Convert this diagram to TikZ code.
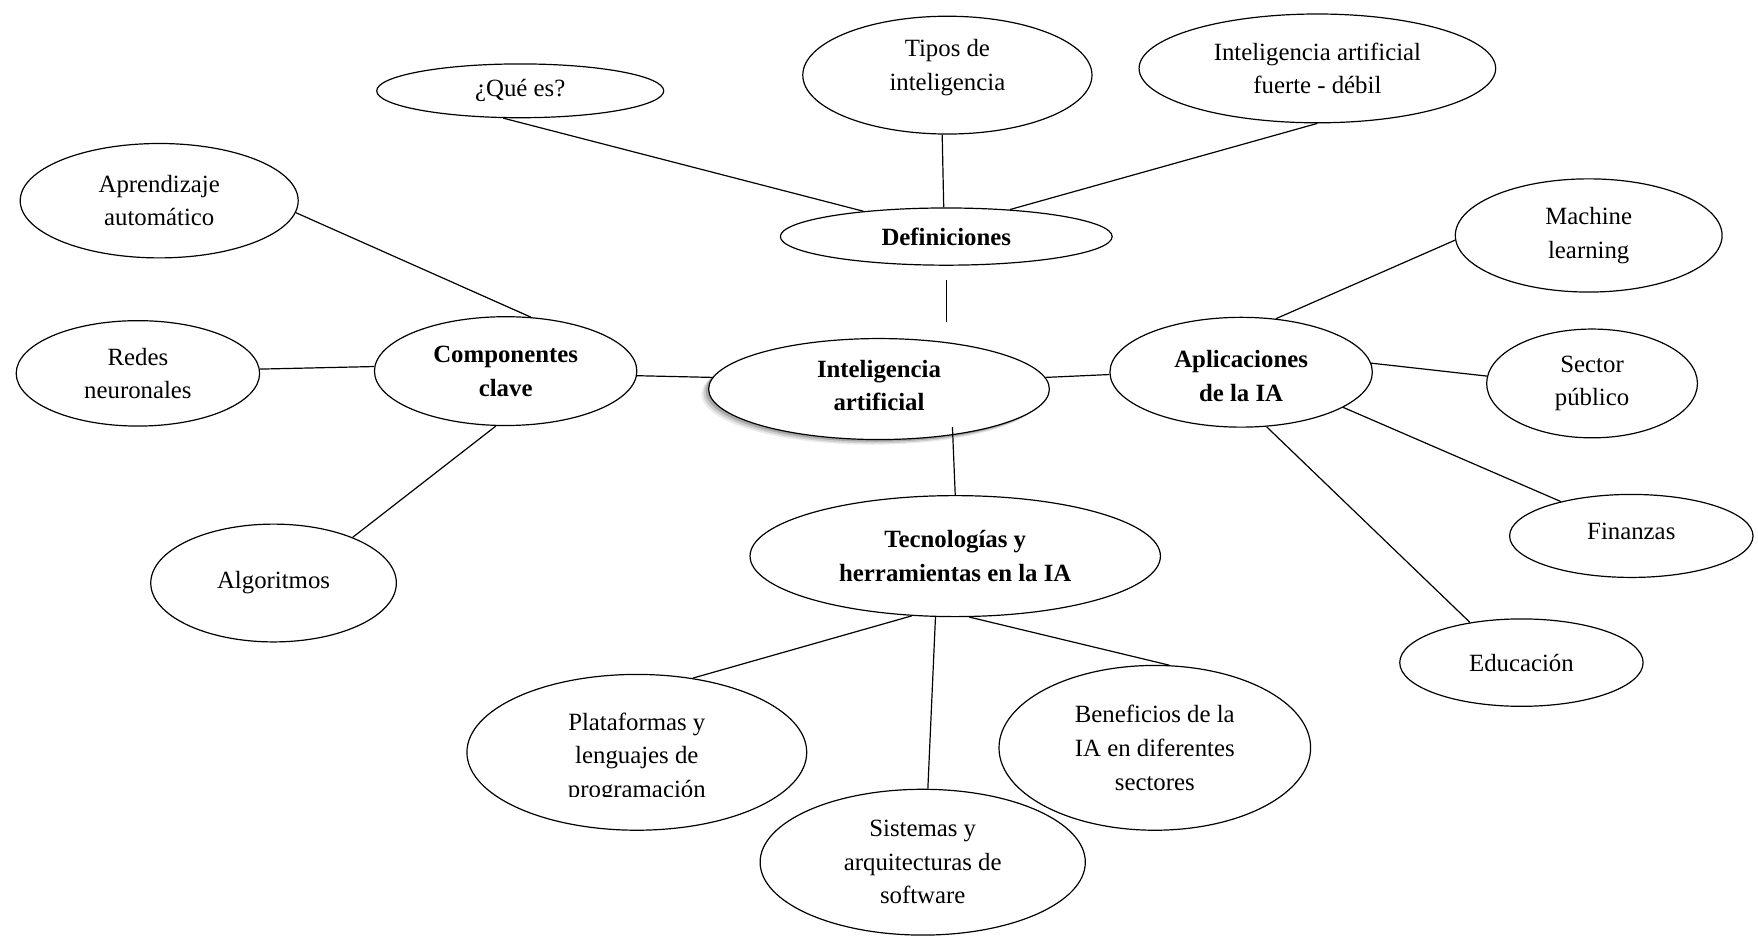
\documentclass[tikz,border=0pt]{standalone}
\usepackage{fontspec}
\setmainfont{Liberation Serif}
\usetikzlibrary{shapes.geometric,shadows,calc}
\begin{document}
\begin{tikzpicture}[x=0.5606pt,y=-0.5606pt,
  fnt/.style={font=\fontsize{12.4}{16.8}\selectfont},
  fntb/.style={font=\fontsize{12.4}{16.8}\selectfont\bfseries},
  bub/.style={ellipse, draw, line width=0.6pt, inner sep=0pt, align=center, fnt},
  bb/.style={bub, fntb},
  txt/.style={align=center, inner sep=0pt, fnt},
  txtb/.style={align=center, inner sep=0pt, fntb},
  conn/.style={line width=0.6pt}]
\useasboundingbox (0,0) rectangle (1568,835);
% definitions branch
\node[bub, minimum width=143.5pt, minimum height=26.9pt] (que) at (464,81) {¿Qué es?};
\node[bub, minimum width=144.6pt, minimum height=58.9pt] (tipos) at (845,67) {};
\node[txt] (tipostext) at (845,60) {Tipos de\\inteligencia};
\node[bub, minimum width=178.3pt, minimum height=54.4pt] (fuerte) at (1175,61) {Inteligencia artificial\\fuerte - débil};
\node[bb, minimum width=165.9pt, minimum height=28.6pt] (def) at (844,211) {Definiciones};
% components branch
\node[bub, minimum width=139.0pt, minimum height=57.2pt] (apr) at (142,179) {Aprendizaje\\automático};
\node[bub, minimum width=121.7pt, minimum height=52.7pt] (redes) at (123,333) {Redes\\neuronales};
\node[bb, minimum width=131.2pt, minimum height=54.4pt] (comp) at (451,331) {Componentes\\clave};
\node[bub, minimum width=122.8pt, minimum height=58.9pt] (alg) at (244,520) {Algoritmos};
% centre
\node[bb, fill=white, minimum width=170.4pt, minimum height=50.5pt,
  drop shadow={shadow xshift=-3.6pt, shadow yshift=-2.6pt, fill=black, opacity=0.08},
  drop shadow={shadow xshift=-2.6pt, shadow yshift=-1.9pt, fill=black, opacity=0.12},
  drop shadow={shadow xshift=-1.5pt, shadow yshift=-1.1pt, fill=black, opacity=0.18}] (ia) at (784,347) {};
\node[txtb] (iatext) at (784,344) {Inteligencia\\artificial};
% applications branch
\node[bb, minimum width=131.2pt, minimum height=54.9pt] (apl) at (1107,332) {};
\node[txtb] (apltext) at (1107,335.5) {Aplicaciones\\de la IA};
\node[bub, minimum width=133.4pt, minimum height=56.6pt] (ml) at (1417,210) {Machine\\learning};
\node[bub, minimum width=105.4pt, minimum height=54.4pt] (sec) at (1420,342) {Sector\\público};
\node[bub, minimum width=121.7pt, minimum height=41.5pt] (fin) at (1455,478) {};
\node[txt] (fintext) at (1455,474) {Finanzas};
\node[bub, minimum width=121.7pt, minimum height=43.7pt] (edu) at (1357,591) {Educación};
% technologies branch
\node[bb, minimum width=205.2pt, minimum height=60.5pt] (tec) at (852,496) {Tecnologías y\\herramientas en la IA};
\node[bub, minimum width=169.9pt, minimum height=77.9pt] (plat) at (568,671) {};
\begin{scope}
  \clip ($(plat.west)+(0,-80)$) rectangle ($(plat.east)+(0,39)$);
  \node[txt] (plattext) at (568,676) {Plataformas y\\lenguajes de\\programación};
\end{scope}
\node[bub, minimum width=162.6pt, minimum height=72.9pt] (sis) at (823,769) {Sistemas y\\arquitecturas de\\software};
\node[bub, minimum width=155.8pt, minimum height=82.4pt] (ben) at (1030,667) {Beneficios de la\\IA en diferentes\\sectores};
% connectors
\draw[conn] (que.-122) -- (def.163);
\draw[conn] (tipos.-95) -- (def.95);
\draw[conn] (fuerte.-90) -- (def.23);
\draw[conn, shorten <=7pt, shorten >=8pt] (def.south) -- (def.south |- ia.north);
\draw[conn] (apr.-5) -- (comp.65);
\draw[conn] (redes.2) -- (comp.178);
\draw[conn] (alg.30) -- (comp.-100);
\draw[conn] (comp.-2) -- (ia.176);
\draw[conn] (ia.4) -- (apl.181);
\draw[conn, shorten <=-4pt] (ia.-32) -- (tec.90);
\draw[conn] (apl.57) -- (ml.182);
\draw[conn] (apl.4) -- (sec.176);
\draw[conn] (apl.-19) -- (fin.154);
\draw[conn] (apl.-65) -- (edu.142.5);
\draw[conn] (tec.-126) -- (plat.53);
\draw[conn] (tec.-108) -- (sis.86);
\draw[conn] (tec.-77) -- (ben.80);
\end{tikzpicture}
\end{document}
